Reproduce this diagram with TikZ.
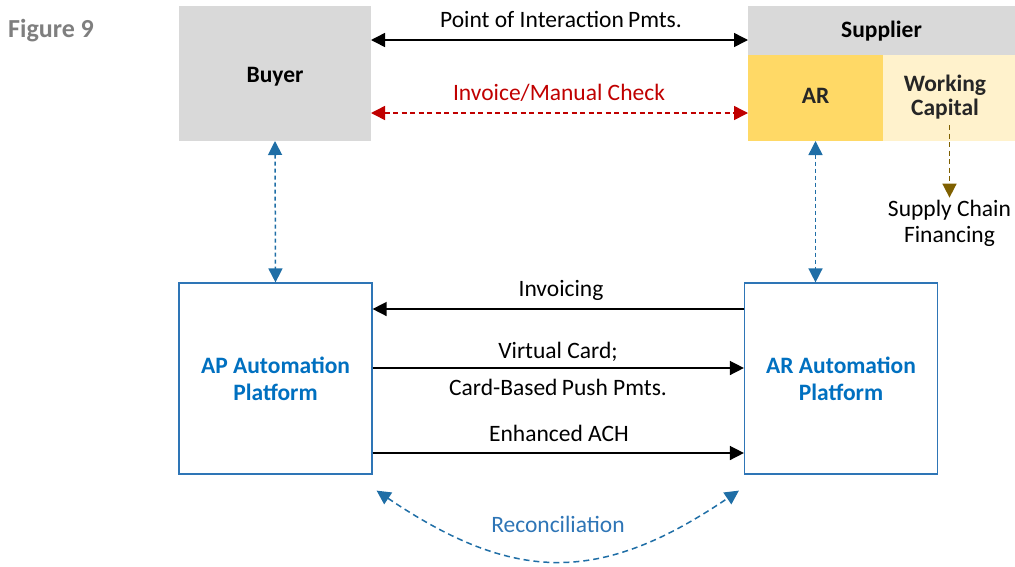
\documentclass[tikz,border=0pt]{standalone}
\usepackage{fontspec}
\setmainfont{Carlito}
\usetikzlibrary{arrows.meta,calc}

\definecolor{boxgray}{HTML}{D9D9D9}
\definecolor{argold}{HTML}{FFD966}
\definecolor{wclight}{HTML}{FFF2CC}
\definecolor{figgray}{HTML}{7F7F7F}
\definecolor{invred}{HTML}{C00000}
\definecolor{platblue}{HTML}{0070C0}
\definecolor{edgeblue}{HTML}{2E75B6}
\definecolor{linkblue}{HTML}{1F6EA6}
\definecolor{scfbrown}{HTML}{7F6000}

\tikzset{
  bigtri/.tip={Triangle[length=14pt,width=14pt]},
  txt/.style={font=\fontsize{23.5}{25}\selectfont},
  blk/.style={inner sep=0pt, outer sep=0pt, draw=none},
  platform/.style={draw=edgeblue, line width=1.2pt, fill=white, inner sep=0pt,
    minimum width=193pt, minimum height=191pt, align=center,
    text=platblue, font=\fontsize{23.5}{27}\selectfont\bfseries},
  lbl/.style={txt, anchor=base, inner sep=0pt},
  flow/.style={line width=1.5pt, -{bigtri}},
  bothflow/.style={line width=1.5pt, {bigtri}-{bigtri}},
  dashedlink/.style={dash pattern=on 5pt off 3.5pt},
}

\begin{document}
\begin{tikzpicture}[x=1pt,y=-1pt]
  \useasboundingbox (0,0) rectangle (1015,566);

  % caption
  \node[txt, font=\fontsize{26}{28}\selectfont\bfseries, text=figgray, anchor=base west, inner sep=0pt]
    (fig) at (8,37) {Figure 9};

  % buyer
  \node[blk, fill=boxgray, minimum width=192pt, minimum height=135pt] (buyer) at (275,73.5) {};
  \node[lbl, font=\fontsize{23.5}{25}\selectfont\bfseries] (buyertxt) at (275,82) {Buyer};

  % supplier block
  \node[blk, fill=boxgray, minimum width=267pt, minimum height=49pt] (supplier) at (881.5,30.5) {};
  \node[lbl, font=\fontsize{23.5}{25}\selectfont\bfseries] (suppliertxt) at (881.5,37) {Supplier};
  \node[blk, fill=argold, minimum width=135pt, minimum height=86pt] (ar) at (815.5,98) {};
  \node[lbl, font=\fontsize{23.5}{25}\selectfont\bfseries, text=black!85] (artxt) at (815.5,103) {AR};
  \node[blk, fill=wclight, minimum width=132pt, minimum height=86pt] (wc) at (949,98) {};
  \node[txt, font=\fontsize{23.5}{24}\selectfont\bfseries, text=black!85, align=center, inner sep=0pt]
    (wctxt) at (945,97) {Working\\Capital};

  % supply chain financing
  \node[txt, align=center, inner sep=0pt, font=\fontsize{23.5}{26}\selectfont] (scf) at (949.5,223) {Supply Chain\\Financing};
  \coordinate (scfstart) at (949.5,125);
  \draw[line width=1.6pt, scfbrown, dashedlink, -{bigtri}, shorten >=2pt]
    (scfstart) -- (scf.north);

  % automation platforms
  \node[platform] (ap) at (275.5,378.5) {AP Automation\\Platform};
  \node[platform] (arp) at (841,378.5) {AR Automation\\Platform};

  % level coordinates for horizontal flows
  \coordinate (ypoi) at (0,40);
  \coordinate (yinv) at (0,113);
  \coordinate (yinvoicing) at (0,309);
  \coordinate (yvc) at (0,368);
  \coordinate (yach) at (0,453);

  % buyer <-> supplier
  \draw[bothflow] (buyer.east |- ypoi) -- (ar.west |- ypoi);
  \node[lbl] (poitxt) at (561,27) {Point of Interaction\kern-1pt\ Pmts.};
  \draw[bothflow, invred, dashedlink] (buyer.east |- yinv) -- (ar.west |- yinv);
  \node[lbl, text=invred] (invtxt) at (559,100) {Invoice/Manual Check};

  % vertical links to platforms
  \draw[bothflow, linkblue, dash pattern=on 4pt off 3pt] (buyer.south) -- (ap.north);
  \draw[bothflow, linkblue, dash pattern=on 4pt off 3pt] (ar.south) -- (ar.south |- arp.north);

  % platform <-> platform
  \draw[flow] (arp.west |- yinvoicing) -- (ap.east |- yinvoicing);
  \node[lbl] (invoicingtxt) at (561,296) {Invoicing};
  \draw[flow] (ap.east |- yvc) -- (arp.west |- yvc);
  \node[lbl] (vctxt) at (558,358) {Virtual Card;};
  \node[lbl] (cbtxt) at (558,395) {Card-Based\kern-1pt\ Push Pmts.};
  \draw[flow] (ap.east |- yach) -- (arp.west |- yach);
  \node[lbl] (achtxt) at (559,441) {Enhanced ACH};

  % reconciliation
  \coordinate (recl) at ($(ap.south east)+(4,16)$);
  \coordinate (recr) at ($(arp.south west)+(-5,16)$);
  \draw[line width=1.5pt, linkblue, dash pattern=on 6pt off 4pt, {bigtri}-{bigtri}]
    (recl) .. controls (515,584) and (601,584) .. (recr);
  \node[lbl, text=edgeblue] (rectxt) at (558,532) {Reconciliation};
\end{tikzpicture}
\end{document}
